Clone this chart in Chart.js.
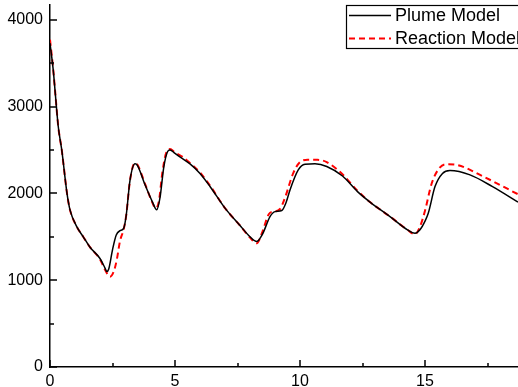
<!DOCTYPE html>
<html>
<head>
<meta charset="utf-8">
<script src="https://cdn.jsdelivr.net/npm/chart.js@4"></script>
<style>
  body { margin: 0; background: #fff; }
  canvas { display: block; }
</style>
</head>
<body>
<canvas id="grafico" width="518" height="387"></canvas>
<script>
// Dados
const plumeX = [0, 0.13, 0.2, 0.33, 0.47, 0.68, 0.8, 1.07, 1.33, 1.6, 2.0, 2.2, 2.27, 2.35, 2.5, 2.65, 2.8, 2.95, 3.05, 3.2, 3.4, 3.5, 3.8, 4.1, 4.27, 4.4, 4.55, 4.7, 4.8, 5.0, 5.3, 5.6, 6.0, 6.4, 7.0, 7.6, 8.0, 8.27, 8.5, 8.8, 9.0, 9.27, 9.45, 9.6, 9.93, 10.2, 10.6, 11.07, 11.7, 12.3, 12.8, 13.6, 14.3, 14.6, 14.8, 15.0, 15.13, 15.4, 15.7, 16.0, 16.8, 17.7, 18.72];
const plumeY = [3730, 3420, 3190, 2770, 2500, 2000, 1810, 1617, 1500, 1380, 1250, 1140, 1100, 1130, 1350, 1520, 1570, 1600, 1750, 2150, 2340, 2320, 2100, 1900, 1810, 1950, 2300, 2480, 2500, 2460, 2400, 2340, 2230, 2080, 1830, 1630, 1500, 1445, 1530, 1733, 1790, 1802, 1900, 2040, 2270, 2335, 2340, 2310, 2200, 2020, 1900, 1733, 1580, 1541, 1580, 1680, 1771, 2078, 2230, 2263, 2213, 2078, 1900];

const reactionX = [0, 0.13, 0.2, 0.33, 0.47, 0.68, 0.8, 1.07, 1.33, 1.6, 2.0, 2.2, 2.4, 2.55, 2.67, 2.8, 2.95, 3.05, 3.2, 3.4, 3.5, 3.8, 4.1, 4.22, 4.35, 4.5, 4.65, 4.8, 5.0, 5.3, 5.6, 6.0, 6.4, 7.0, 7.6, 8.0, 8.27, 8.5, 8.75, 8.95, 9.2, 9.4, 9.73, 10.0, 10.3, 10.7, 11.07, 11.7, 12.3, 12.8, 13.6, 14.3, 14.6, 14.8, 15.0, 15.27, 15.6, 15.87, 16.27, 17.33, 18.72];
const reactionY = [3770, 3424, 3193, 2770, 2500, 2000, 1810, 1617, 1500, 1380, 1240, 1120, 1040, 1100, 1233, 1450, 1590, 1750, 2150, 2350, 2330, 2110, 1890, 1830, 1900, 2250, 2470, 2510, 2470, 2420, 2350, 2240, 2090, 1830, 1630, 1490, 1425, 1560, 1760, 1790, 1820, 1950, 2233, 2360, 2386, 2386, 2360, 2220, 2030, 1900, 1733, 1580, 1530, 1617, 1800, 2117, 2300, 2336, 2328, 2194, 1990];

const xTicks = [0, 2.5, 5, 7.5, 10, 12.5, 15, 17.5];
const yTicks = [0, 500, 1000, 1500, 2000, 2500, 3000, 3500, 4000];
const seriesNames = ['Plume Model', 'Reaction Model'];

const toPoints = (xs, ys) => xs.map((x, i) => ({ x: x, y: ys[i] }));

// Ticks para dentro, como no original
const ticksInternos = {
    id: 'ticksInternos',
    afterDraw(chart) {
        const ctx = chart.ctx;
        const xs = chart.scales.x, ys = chart.scales.y;
        const area = chart.chartArea;
        ctx.save();
        ctx.strokeStyle = '#000';
        ctx.lineWidth = 1.5;
        ctx.beginPath();
        xTicks.forEach(v => {
            const px = Math.round(xs.getPixelForValue(v));
            const len = v % 5 === 0 ? 7 : 4;
            ctx.moveTo(px, area.bottom);
            ctx.lineTo(px, area.bottom - len);
        });
        yTicks.forEach(v => {
            const py = Math.round(ys.getPixelForValue(v));
            const len = v % 1000 === 0 ? 7 : 4;
            ctx.moveTo(area.left, py);
            ctx.lineTo(area.left + len, py);
        });
        ctx.stroke();
        ctx.restore();
    }
};

// Legenda em caixa, cortada na borda direita
const legendaCaixa = {
    id: 'legendaCaixa',
    afterDraw(chart) {
        const ctx = chart.ctx;
        const ds = chart.data.datasets;
        ctx.save();
        ctx.fillStyle = '#fff';
        ctx.fillRect(346, 5, 200, 43);
        ctx.strokeStyle = '#000';
        ctx.lineWidth = 1.2;
        ctx.strokeRect(346.5, 5.5, 200, 43);
        ctx.font = '18px "Liberation Sans", Arial, sans-serif';
        ctx.textBaseline = 'middle';
        ctx.fillStyle = '#000';
        const rows = [15.5, 38.5];
        ds.forEach((d, i) => {
            ctx.beginPath();
            ctx.strokeStyle = d.borderColor;
            ctx.lineWidth = d.borderWidth;
            ctx.setLineDash(d.borderDash || []);
            ctx.moveTo(349, rows[i]);
            ctx.lineTo(391, rows[i]);
            ctx.stroke();
            ctx.setLineDash([]);
            ctx.fillText(d.label, 395, rows[i] + 1);
        });
        ctx.restore();
    }
};

new Chart(document.getElementById('grafico').getContext('2d'), {
    type: 'line',
    data: {
        datasets: [{
            label: seriesNames[0],
            data: toPoints(plumeX, plumeY),
            borderColor: '#000000',
            borderWidth: 1.5,
            pointRadius: 0,
            cubicInterpolationMode: 'monotone',
            fill: false
        }, {
            label: seriesNames[1],
            data: toPoints(reactionX, reactionY),
            borderColor: '#ff0000',
            borderWidth: 2,
            borderDash: [6, 4],
            pointRadius: 0,
            cubicInterpolationMode: 'monotone',
            fill: false
        }]
    },
    options: {
        responsive: false,
        animation: false,
        layout: { padding: { top: 5, right: 0, left: 0, bottom: 0 } },
        plugins: {
            legend: { display: false },
            tooltip: { enabled: false }
        },
        scales: {
            x: {
                type: 'linear',
                min: 0,
                max: 18.72,
                afterBuildTicks: s => { s.ticks = xTicks.map(v => ({ value: v })); },
                afterFit: s => { s.height = 20; s.paddingLeft = 0; s.paddingRight = 0; },
                grid: { display: false, drawTicks: false },
                border: { display: true, color: '#000', width: 1.5 },
                ticks: {
                    autoSkip: false,
                    maxRotation: 0,
                    padding: 5,
                    color: '#000',
                    font: { family: '"Liberation Sans", Arial, sans-serif', size: 16 },
                    callback: v => (v % 5 === 0 ? String(v) : '')
                }
            },
            y: {
                min: 0,
                max: 4170,
                afterBuildTicks: s => { s.ticks = yTicks.map(v => ({ value: v })); },
                afterFit: s => { s.width = 50; s.paddingTop = 0; s.paddingBottom = 0; },
                grid: { display: false, drawTicks: false },
                border: { display: true, color: '#000', width: 1.5 },
                ticks: {
                    autoSkip: false,
                    padding: 7,
                    color: '#000',
                    font: { family: '"Liberation Sans", Arial, sans-serif', size: 16 },
                    callback: v => (v % 1000 === 0 ? String(v) : '')
                }
            }
        }
    },
    plugins: [ticksInternos, legendaCaixa]
});
</script>
</body>
</html>
